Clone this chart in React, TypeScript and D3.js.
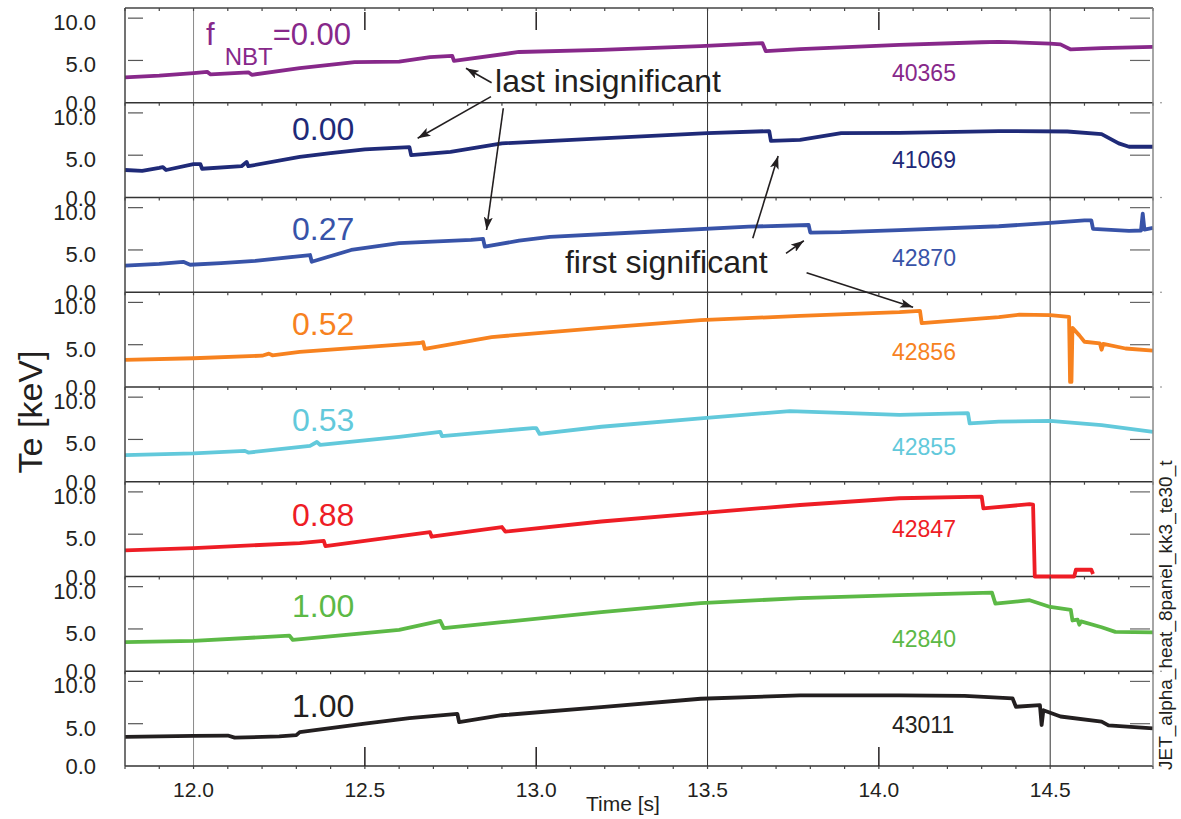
// Te traces for eight JET shots, stacked panels drawn with D3

import React, { useEffect, useRef } from 'react'
import * as d3 from 'd3'

const WIDTH = 1181
const HEIGHT = 819
const FONT = 'Liberation Sans, Arial, Helvetica, sans-serif'
const INK = '#231f20'

// Shots, NBT fractions and trace colours, top to bottom
const shots = ['40365', '41069', '42870', '42856', '42855', '42847', '42840', '43011']
const fractions = ['0.00', '0.00', '0.27', '0.52', '0.53', '0.88', '1.00', '1.00']
const colors = ['#87288a', '#1f2a78', '#3853a8', '#f7821f', '#62c9db', '#ee1d25', '#5cb946', '#231f20']

// [time s, Te keV]
const te40365 = [[11.8, 3.0], [11.9, 3.2], [12.0, 3.5], [12.04, 3.65], [12.05, 3.35], [12.16, 3.6], [12.17, 3.3], [12.31, 4.1], [12.47, 4.8], [12.6, 4.85], [12.69, 5.4], [12.755, 5.55], [12.76, 4.95], [12.95, 6.0], [13.19, 6.25], [13.48, 6.7], [13.66, 7.05], [13.67, 6.1], [13.77, 6.35], [14.06, 6.85], [14.3, 7.15], [14.35, 7.2], [14.5, 7.0], [14.53, 6.9], [14.56, 6.3], [14.65, 6.45], [14.8, 6.6]]
const te41069 = [[11.8, 3.25], [11.85, 3.15], [11.9, 3.5], [11.91, 3.6], [11.92, 3.25], [12.0, 3.95], [12.02, 3.95], [12.025, 3.4], [12.14, 3.7], [12.155, 4.2], [12.16, 3.7], [12.31, 4.8], [12.4, 5.25], [12.5, 5.7], [12.63, 5.95], [12.635, 5.0], [12.75, 5.4], [12.9, 6.4], [13.19, 7.0], [13.5, 7.6], [13.68, 7.85], [13.685, 6.7], [13.77, 6.8], [13.89, 7.6], [14.06, 7.65], [14.35, 7.85], [14.55, 7.8], [14.65, 7.5], [14.7, 6.4], [14.73, 6.0], [14.8, 6.0]]
const te42870 = [[11.8, 3.15], [11.9, 3.35], [11.97, 3.6], [11.99, 3.25], [12.08, 3.45], [12.18, 3.7], [12.34, 4.4], [12.345, 3.6], [12.46, 5.0], [12.6, 5.8], [12.81, 6.2], [12.845, 6.3], [12.85, 5.4], [12.95, 6.1], [13.04, 6.55], [13.33, 7.15], [13.62, 7.75], [13.795, 7.95], [13.8, 7.05], [13.89, 7.1], [14.06, 7.35], [14.35, 7.8], [14.5, 8.2], [14.6, 8.5], [14.62, 8.5], [14.625, 7.5], [14.73, 7.25], [14.765, 7.3], [14.77, 9.3], [14.775, 7.4], [14.8, 7.6]]
const te42856 = [[11.8, 3.2], [12.0, 3.4], [12.2, 3.7], [12.22, 3.95], [12.23, 3.75], [12.31, 4.15], [12.6, 5.0], [12.66, 5.2], [12.67, 5.3], [12.675, 4.5], [12.87, 5.9], [13.19, 7.0], [13.48, 7.9], [13.77, 8.4], [14.06, 8.85], [14.12, 9.0], [14.125, 7.55], [14.35, 8.25], [14.41, 8.55], [14.5, 8.5], [14.555, 8.3], [14.558, 0.6], [14.562, 0.6], [14.565, 7.0], [14.585, 6.1], [14.6, 5.35], [14.645, 5.15], [14.65, 4.4], [14.655, 5.1], [14.72, 4.55], [14.8, 4.3]]
const te42855 = [[11.8, 3.15], [12.0, 3.35], [12.15, 3.65], [12.16, 3.45], [12.34, 4.25], [12.36, 4.7], [12.37, 4.35], [12.6, 5.3], [12.72, 5.9], [12.725, 5.4], [12.99, 6.35], [13.0, 6.35], [13.01, 5.65], [13.19, 6.5], [13.48, 7.5], [13.74, 8.35], [14.06, 7.9], [14.26, 8.1], [14.265, 6.9], [14.35, 7.1], [14.5, 7.2], [14.65, 6.7], [14.8, 5.9]]
const te42847 = [[11.8, 3.1], [12.0, 3.35], [12.31, 3.95], [12.38, 4.2], [12.385, 3.6], [12.69, 5.25], [12.695, 4.7], [12.9, 5.85], [12.91, 5.3], [13.19, 6.5], [13.48, 7.5], [13.77, 8.45], [14.06, 9.25], [14.3, 9.45], [14.305, 8.05], [14.44, 8.55], [14.45, 8.5], [14.455, 0], [14.57, 0], [14.575, 0.8], [14.62, 0.8], [14.625, 0.3]]
const te42840 = [[11.8, 3.45], [12.0, 3.6], [12.28, 4.2], [12.29, 3.7], [12.6, 4.9], [12.72, 5.95], [12.73, 5.1], [12.9, 5.8], [13.19, 7.0], [13.48, 8.05], [13.77, 8.65], [14.06, 9.0], [14.33, 9.3], [14.34, 8.0], [14.44, 8.4], [14.5, 7.6], [14.56, 7.25], [14.565, 6.0], [14.58, 6.1], [14.585, 5.5], [14.59, 5.9], [14.65, 5.2], [14.69, 4.65], [14.8, 4.6]]
const te43011 = [[11.8, 3.45], [12.0, 3.55], [12.1, 3.6], [12.12, 3.35], [12.25, 3.5], [12.3, 3.65], [12.31, 4.0], [12.5, 5.0], [12.63, 5.65], [12.77, 6.15], [12.775, 5.2], [12.9, 6.0], [13.19, 6.95], [13.48, 7.95], [13.77, 8.35], [14.06, 8.35], [14.25, 8.3], [14.39, 8.0], [14.4, 7.0], [14.47, 7.2], [14.475, 4.85], [14.48, 6.6], [14.53, 5.85], [14.65, 5.25], [14.67, 4.8], [14.8, 4.45]]

const traces = [te40365, te41069, te42870, te42856, te42855, te42847, te42840, te43011]

// Axes
const timeDomain = [11.8, 14.8]
const teDomain = [0, 11.2]
const yTickValues = [0, 5, 10]
const xTickLabels = [12.0, 12.5, 13.0, 13.5, 14.0, 14.5]
const gridTimes = [12.0, 13.5, 14.5]
const majorTickTimes = [12.5, 13.0, 14.0]
const minorTickTimes = d3.range(118, 149).map(d => d / 10)

// Label baselines below each panel top (px)
const fractionBase = [37, 37, 42, 43, 44, 44, 40, 46]
const shotBase = [73, 65, 68, 68, 68, 55, 70, 62]

// Annotation arrows: tail and head as [panel, time, Te]
const lastArrows = [
  { tail: [0, 12.87, 2.37], head: [0, 12.795, 4.07] },
  { tail: [0, 12.868, 0.72], head: [1, 12.654, 7.0] },
  { tail: [1, 12.904, 10.55], head: [2, 12.855, 7.36] }
]
const firstArrows = [
  { tail: [2, 13.632, 6.38], head: [1, 13.706, 4.9] },
  { tail: [2, 13.729, 4.6], head: [2, 13.781, 6.09] },
  { tail: [2, 13.789, 2.31], head: [3, 14.1, 9.42] }
]
const notes = [
  { text: 'last insignificant', at: [0, 12.88, 1.3] },
  { text: 'first significant', at: [2, 13.084, 2.31] }
]

const plot = { left: 125, right: 1153, top: 8, bottom: 766 }

const create = (el: SVGSVGElement) => {
  const svg = d3.select(el)
  svg.selectAll('*').remove()

  const ph = (plot.bottom - plot.top) / traces.length
  const x = d3.scaleLinear().domain(timeDomain).range([plot.left, plot.right])
  const yFor = (i: number) =>
    d3.scaleLinear().domain(teDomain).range([plot.top + (i + 1) * ph, plot.top + i * ph])
  const pos = (p: number[]) => [x(p[1]), yFor(p[0])(p[2])]

  svg.append('rect').attr('width', WIDTH).attr('height', HEIGHT).attr('fill', 'white')

  // Arrow head
  svg
    .append('defs')
    .append('marker')
    .attr('id', 'head')
    .attr('markerUnits', 'userSpaceOnUse')
    .attr('markerWidth', 13)
    .attr('markerHeight', 9)
    .attr('refX', 13)
    .attr('refY', 4.5)
    .attr('orient', 'auto')
    .append('path')
    .attr('d', 'M0,0 L13,4.5 L0,9 L3,4.5 z')
    .attr('fill', INK)

  // Vertical grid lines
  svg
    .selectAll('line.grid')
    .data(gridTimes)
    .join('line')
    .attr('x1', d => x(d))
    .attr('x2', d => x(d))
    .attr('y1', plot.top)
    .attr('y2', plot.bottom)
    .attr('stroke', d => (d === 12.0 ? '#8a8a8a' : '#333'))
    .attr('stroke-width', 1)

  traces.forEach((trace, i) => {
    const y = yFor(i)
    const top = plot.top + i * ph
    const bottom = top + ph

    // Panel separator
    svg
      .append('line')
      .attr('x1', plot.left)
      .attr('x2', plot.right)
      .attr('y1', bottom)
      .attr('y2', bottom)
      .attr('stroke', '#333')
      .attr('stroke-width', 1.5)

    // Inward Te ticks, left and right
    ;[10, 5].forEach(v => {
      svg.append('line').attr('x1', plot.left + 3).attr('x2', plot.left + 18)
        .attr('y1', y(v)).attr('y2', y(v)).attr('stroke', '#555').attr('stroke-width', 1.2)
      svg.append('line').attr('x1', plot.right - 23).attr('x2', plot.right - 3)
        .attr('y1', y(v)).attr('y2', y(v)).attr('stroke', '#666').attr('stroke-width', 1.2)
    })

    // Te tick labels (they overlap at the panel joins, as in the source figure)
    svg
      .selectAll(`text.yt${i}`)
      .data(yTickValues)
      .join('text')
      .attr('x', 96)
      .attr('y', d => y(d) + (d === 0 ? 8 : 12))
      .attr('text-anchor', 'end')
      .attr('font-family', FONT)
      .attr('font-size', 22)
      .attr('fill', INK)
      .text(d => d3.format('.1f')(d))

    // Minor time ticks below each boundary
    svg
      .selectAll(`line.mt${i}`)
      .data(minorTickTimes)
      .join('line')
      .attr('x1', d => x(d))
      .attr('x2', d => x(d))
      .attr('y1', top)
      .attr('y2', top + 3)
      .attr('stroke', '#444')
      .attr('stroke-width', 1.2)

    // Trace
    svg
      .append('path')
      .datum(trace)
      .attr('d', d3.line<number[]>().x(d => x(d[0])).y(d => y(d[1])))
      .attr('fill', 'none')
      .attr('stroke', colors[i])
      .attr('stroke-width', 3.8)
      .attr('stroke-linejoin', 'round')

    // Fraction label
    const lab = svg
      .append('text')
      .attr('font-family', FONT)
      .attr('fill', colors[i])
      .attr('y', top + fractionBase[i])
    if (i === 0) {
      lab.attr('x', 206).attr('font-size', 31)
      lab.append('tspan').text('f')
      lab.append('tspan').attr('font-size', 24).attr('dx', 10).attr('dy', 20).text('NBT')
      lab.append('tspan').attr('dy', -20).text('=' + fractions[i])
    } else {
      lab.attr('x', 292).attr('font-size', 32).text(fractions[i])
    }

    // Shot number
    svg
      .append('text')
      .attr('x', 892)
      .attr('y', top + shotBase[i])
      .attr('font-family', FONT)
      .attr('font-size', 23)
      .attr('fill', colors[i])
      .text(shots[i])

    // Little marks right of the frame
    svg.append('circle').attr('cx', 1161).attr('cy', bottom).attr('r', 0.8).attr('fill', '#777')
  })

  // Frame
  svg.append('line').attr('x1', plot.left).attr('x2', plot.right).attr('y1', plot.top).attr('y2', plot.top)
    .attr('stroke', '#444').attr('stroke-width', 1.5)
  svg.append('line').attr('x1', plot.left).attr('x2', plot.left).attr('y1', plot.top).attr('y2', plot.bottom)
    .attr('stroke', '#444').attr('stroke-width', 1.5)
  svg.append('line').attr('x1', plot.right).attr('x2', plot.right).attr('y1', plot.top).attr('y2', plot.bottom)
    .attr('stroke', '#888').attr('stroke-width', 1.5)

  // Minor ticks under bottom axis
  svg
    .selectAll('line.mb')
    .data(minorTickTimes)
    .join('line')
    .attr('x1', d => x(d))
    .attr('x2', d => x(d))
    .attr('y1', plot.bottom)
    .attr('y2', plot.bottom + 3)
    .attr('stroke', '#444')
    .attr('stroke-width', 1.2)

  // Major ticks top and bottom
  majorTickTimes.forEach(t => {
    svg.append('line').attr('x1', x(t)).attr('x2', x(t)).attr('y1', 12).attr('y2', 30)
      .attr('stroke', INK).attr('stroke-width', 1.5)
    svg.append('line').attr('x1', x(t)).attr('x2', x(t)).attr('y1', plot.bottom - 19).attr('y2', plot.bottom)
      .attr('stroke', INK).attr('stroke-width', 1.5)
  })

  // Time tick labels
  svg
    .selectAll('text.xt')
    .data(xTickLabels)
    .join('text')
    .attr('x', d => x(d))
    .attr('y', 797)
    .attr('text-anchor', 'middle')
    .attr('font-family', FONT)
    .attr('font-size', 21)
    .attr('fill', INK)
    .text(d => d3.format('.1f')(d))

  // Axis titles
  svg.append('text').attr('x', 586).attr('y', 811).attr('font-family', FONT).attr('font-size', 21)
    .attr('fill', INK).text('Time [s]')
  svg.append('text').attr('transform', 'translate(42, 412) rotate(-90)').attr('text-anchor', 'middle')
    .attr('font-family', FONT).attr('font-size', 34).attr('fill', INK).text('Te [keV]')
  svg.append('text').attr('transform', 'translate(1172, 770) rotate(-90)').attr('font-family', FONT)
    .attr('font-size', 19).attr('fill', INK).text('JET_alpha_heat_8panel_kk3_te30_t')

  // Annotations
  notes.forEach(n => {
    const [px, py] = pos(n.at)
    svg.append('text').attr('x', px).attr('y', py).attr('font-family', FONT).attr('font-size', 32)
      .attr('fill', INK).text(n.text)
  })
  ;[...lastArrows, ...firstArrows].forEach(a => {
    const [x1, y1] = pos(a.tail)
    const [x2, y2] = pos(a.head)
    svg.append('line').attr('x1', x1).attr('y1', y1).attr('x2', x2).attr('y2', y2)
      .attr('stroke', INK).attr('stroke-width', 1.6).attr('marker-end', 'url(#head)')
  })
}

export default function App() {
  const ref = useRef<SVGSVGElement>(null)
  useEffect(() => {
    if (ref.current) create(ref.current)
  }, [])
  return (
    <svg
      ref={ref}
      width={WIDTH}
      height={HEIGHT}
      style={{ position: 'absolute', left: 0, top: 0, display: 'block' }}
    />
  )
}
